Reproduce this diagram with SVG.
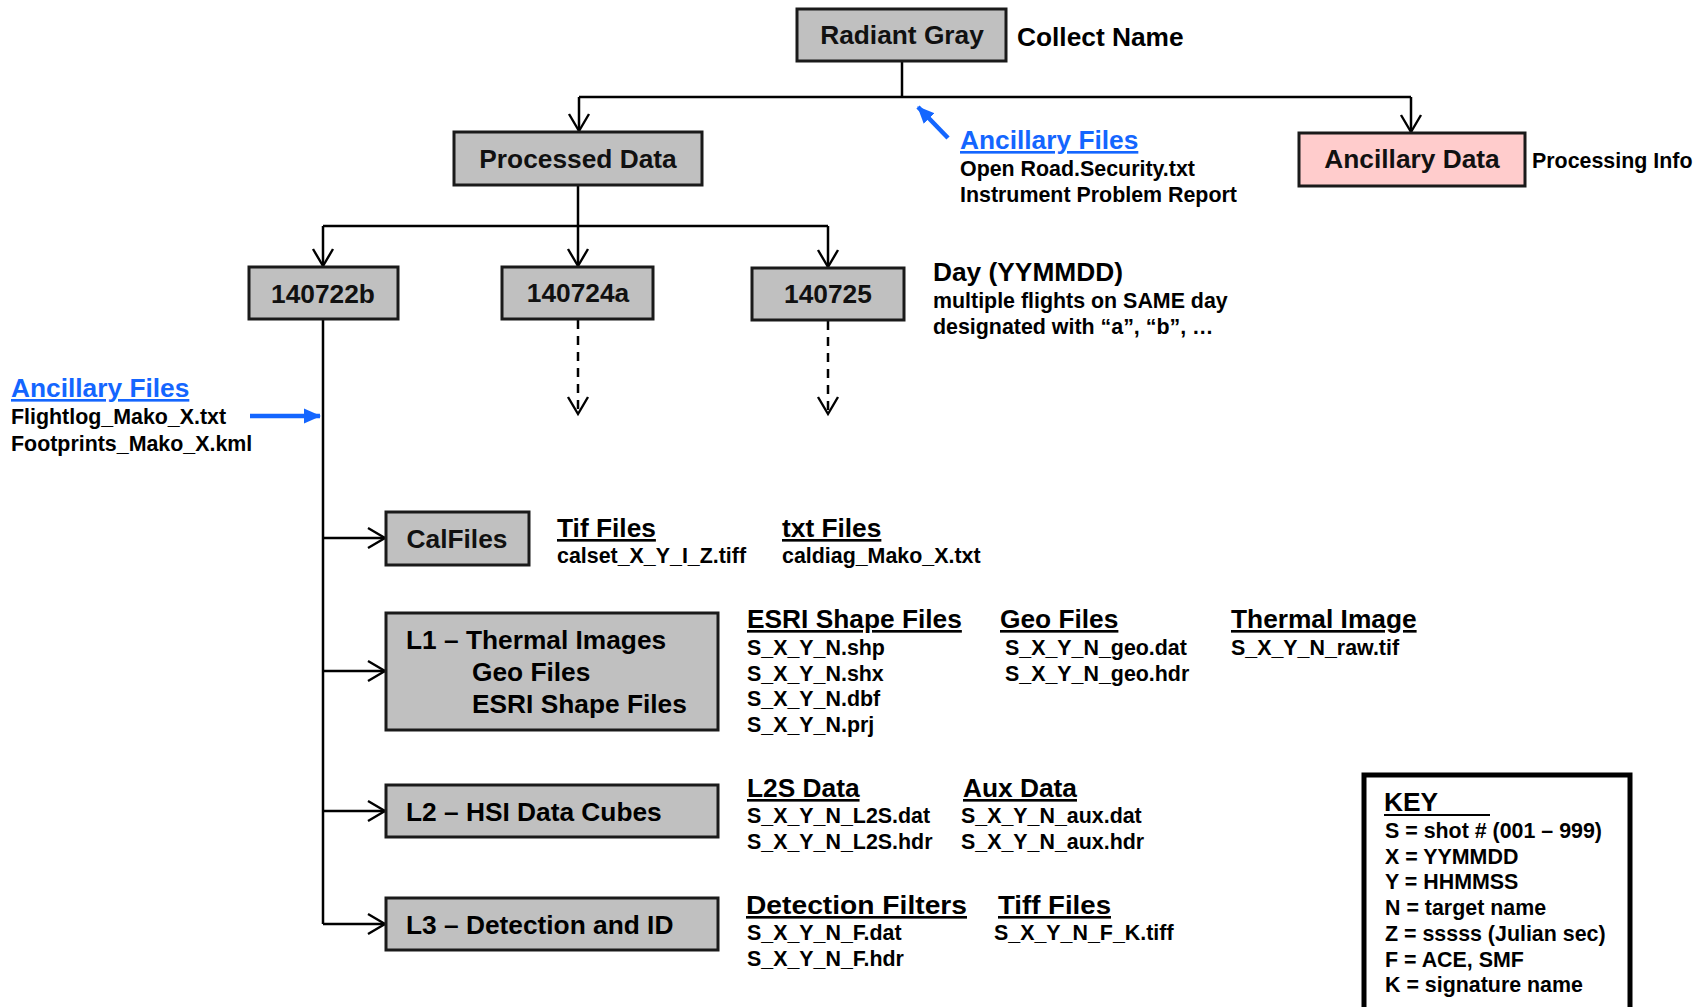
<svg xmlns="http://www.w3.org/2000/svg" width="1703" height="1007" viewBox="0 0 1703 1007">
<defs>
<marker id="open" markerUnits="userSpaceOnUse" markerWidth="22" markerHeight="24" viewBox="0 0 22 24" refX="19" refY="12" orient="auto">
<path d="M2,2 L19,12 L2,22" fill="none" stroke="#000" stroke-width="2.4"/>
</marker>
<marker id="blue" markerUnits="userSpaceOnUse" markerWidth="18" markerHeight="18" viewBox="0 0 18 18" refX="16" refY="9" orient="auto">
<path d="M0,1.5 L17,9 L0,16.5 Z" fill="#1466ff"/>
</marker>
<style>
.box{fill:#c0c0c0;stroke:#1a1a1a;stroke-width:3}
.pink{fill:#ffcccc;stroke:#1a1a1a;stroke-width:3}
.bt{font-family:"Liberation Sans",Arial,sans-serif;font-weight:bold;font-size:26.3px;fill:#111;text-anchor:middle}
.h{font-family:"Liberation Sans",Arial,sans-serif;font-weight:bold;font-size:26.3px;fill:#000}
.hu{font-family:"Liberation Sans",Arial,sans-serif;font-weight:bold;font-size:26.3px;fill:#000;text-decoration:underline}
.s{font-family:"Liberation Sans",Arial,sans-serif;font-weight:bold;font-size:21.4px;fill:#000}
.blu{font-family:"Liberation Sans",Arial,sans-serif;font-weight:bold;font-size:26.3px;fill:#1466ff;text-decoration:underline}
.ln{fill:none;stroke:#000;stroke-width:2.5}
.dash{fill:none;stroke:#000;stroke-width:2.5;stroke-dasharray:9,7}
</style>
</defs>

<g id="connectors">
<path class="ln" d="M902,61 V97"/>
<path class="ln" d="M579,97 H1411"/>
<path class="ln" d="M579,97 V131" marker-end="url(#open)"/>
<path class="ln" d="M1411,97 V132" marker-end="url(#open)"/>
<path class="ln" d="M578,185 V266" marker-end="url(#open)"/>
<path class="ln" d="M323,226 H828"/>
<path class="ln" d="M323,226 V266" marker-end="url(#open)"/>
<path class="ln" d="M828,226 V267" marker-end="url(#open)"/>
<path class="dash" d="M578,320 V414" marker-end="url(#open)"/>
<path class="dash" d="M828,321 V414" marker-end="url(#open)"/>
<path class="ln" d="M323,319 V924"/>
<path class="ln" d="M323,538 H385" marker-end="url(#open)"/>
<path class="ln" d="M323,671 H385" marker-end="url(#open)"/>
<path class="ln" d="M323,811 H385" marker-end="url(#open)"/>
<path class="ln" d="M323,924 H385" marker-end="url(#open)"/>
<path d="M948,138 L918,107" fill="none" stroke="#1466ff" stroke-width="4.5" marker-end="url(#blue)"/>
<path d="M250,416 L320,416" fill="none" stroke="#1466ff" stroke-width="4.5" marker-end="url(#blue)"/>
</g>

<g id="radiant-gray">
<rect class="box" x="797" y="9" width="209" height="52"/>
<text class="bt" x="902" y="44">Radiant Gray</text>
<text class="h" x="1017" y="46">Collect Name</text>
</g>

<g id="ancillary-top">
<text class="blu" x="960" y="149">Ancillary Files</text>
<text class="s" x="960" y="176">Open Road.Security.txt</text>
<text class="s" x="960" y="202">Instrument Problem Report</text>
</g>

<g id="processed-data">
<rect class="box" x="454" y="132" width="248" height="53"/>
<text class="bt" x="578" y="168">Processed Data</text>
</g>

<g id="ancillary-data">
<rect class="pink" x="1299" y="133" width="226" height="53"/>
<text class="bt" x="1412" y="168">Ancillary Data</text>
<text class="s" x="1532" y="168">Processing Info</text>
</g>

<g id="day-140722b">
<rect class="box" x="249" y="267" width="149" height="52"/>
<text class="bt" x="323" y="303">140722b</text>
</g>
<g id="day-140724a">
<rect class="box" x="502" y="267" width="151" height="52"/>
<text class="bt" x="578" y="302">140724a</text>
</g>
<g id="day-140725">
<rect class="box" x="752" y="268" width="152" height="52"/>
<text class="bt" x="828" y="303">140725</text>
</g>
<g id="day-note">
<text class="h" x="933" y="281">Day (YYMMDD)</text>
<text class="s" x="933" y="308">multiple flights on SAME day</text>
<text class="s" x="933" y="334">designated with “a”, “b”, …</text>
</g>

<g id="ancillary-left">
<text class="blu" x="11" y="397">Ancillary Files</text>
<text class="s" x="11" y="424">Flightlog_Mako_X.txt</text>
<text class="s" x="11" y="451">Footprints_Mako_X.kml</text>
</g>

<g id="calfiles">
<rect class="box" x="386" y="512" width="143" height="53"/>
<text class="bt" x="457" y="548">CalFiles</text>
<text class="hu" x="557" y="537">Tif Files</text>
<text class="s" x="557" y="563">calset_X_Y_I_Z.tiff</text>
<text class="hu" x="782" y="537">txt Files</text>
<text class="s" x="782" y="563">caldiag_Mako_X.txt</text>
</g>

<g id="l1">
<rect class="box" x="386" y="613" width="332" height="117"/>
<text class="h" x="406" y="649">L1 – Thermal Images</text>
<text class="h" x="472" y="681">Geo Files</text>
<text class="h" x="472" y="713">ESRI Shape Files</text>
<text class="hu" x="747" y="628">ESRI Shape Files</text>
<text class="s" x="747" y="655">S_X_Y_N.shp</text>
<text class="s" x="747" y="681">S_X_Y_N.shx</text>
<text class="s" x="747" y="706">S_X_Y_N.dbf</text>
<text class="s" x="747" y="732">S_X_Y_N.prj</text>
<text class="hu" x="1000" y="628">Geo Files</text>
<text class="s" x="1005" y="655">S_X_Y_N_geo.dat</text>
<text class="s" x="1005" y="681">S_X_Y_N_geo.hdr</text>
<text class="hu" x="1231" y="628">Thermal Image</text>
<text class="s" x="1231" y="655">S_X_Y_N_raw.tif</text>
</g>

<g id="l2">
<rect class="box" x="386" y="785" width="332" height="52"/>
<text class="h" x="406" y="821">L2 – HSI Data Cubes</text>
<text class="hu" x="747" y="797">L2S Data</text>
<text class="s" x="747" y="823">S_X_Y_N_L2S.dat</text>
<text class="s" x="747" y="849">S_X_Y_N_L2S.hdr</text>
<text class="hu" x="963" y="797">Aux Data</text>
<text class="s" x="961" y="823">S_X_Y_N_aux.dat</text>
<text class="s" x="961" y="849">S_X_Y_N_aux.hdr</text>
</g>

<g id="l3">
<rect class="box" x="386" y="898" width="332" height="52"/>
<text class="h" x="406" y="934">L3 – Detection and ID</text>
<text class="hu" x="746" y="914" textLength="221" lengthAdjust="spacingAndGlyphs">Detection Filters</text>
<text class="s" x="747" y="940">S_X_Y_N_F.dat</text>
<text class="s" x="747" y="966">S_X_Y_N_F.hdr</text>
<text class="hu" x="998" y="914" textLength="113" lengthAdjust="spacingAndGlyphs">Tiff Files</text>
<text class="s" x="994" y="940">S_X_Y_N_F_K.tiff</text>
</g>

<g id="key">
<rect x="1364" y="775" width="266" height="240" fill="#fff" stroke="#000" stroke-width="5"/>
<text class="h" x="1384" y="811">KEY</text>
<line x1="1384" y1="815" x2="1490" y2="815" stroke="#000" stroke-width="2"/>
<text class="s" x="1385" y="838">S = shot # (001 – 999)</text>
<text class="s" x="1385" y="864">X = YYMMDD</text>
<text class="s" x="1385" y="889">Y = HHMMSS</text>
<text class="s" x="1385" y="915">N = target name</text>
<text class="s" x="1385" y="941">Z = sssss (Julian sec)</text>
<text class="s" x="1385" y="967">F = ACE, SMF</text>
<text class="s" x="1385" y="992">K = signature name</text>
</g>
</svg>
